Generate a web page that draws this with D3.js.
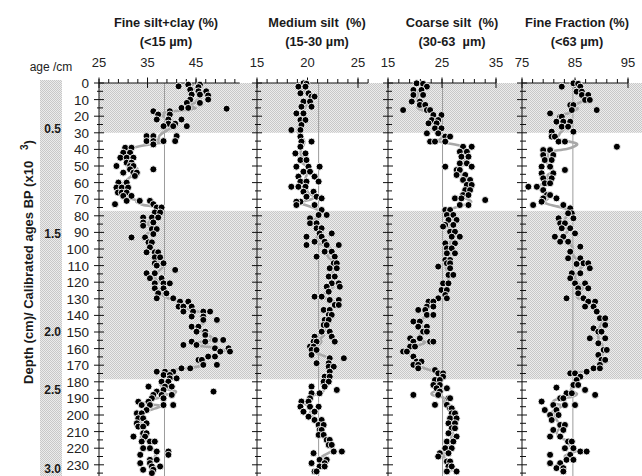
<!DOCTYPE html>
<html>
<head>
<meta charset="utf-8">
<script src="https://cdn.jsdelivr.net/npm/d3@7"></script>
<style>
body{margin:0;background:#fff;}
svg{display:block;font-family:"Liberation Sans",Arial,sans-serif;}
text{white-space:pre;}
</style>
</head>
<body>
<svg id="canvas" width="642" height="476"></svg>
<script>
// depth axis + age markers
let depthTicks=[0,10,20,30,40,50,60,70,80,90,100,110,120,130,140,150,160,170,180,190,200,210,220,230];
let ageLabels=["0.5","1.5","2.0","2.5","3.0"];
let ageDepths=[28,91,150,185,232.5];
let shadedBands=[[0,30],[77,178.5]];

let panelTitles=["Fine silt+clay (%)","Medium silt  (%)","Coarse silt  (%)","Fine Fraction (%)"];
let panelSubtitles=["(<15 µm)","(15-30 µm)","(30-63  µm)","(<63 µm)"];
let panelTicks=[[25,35,45],[15,20,25],[15,25,35],[75,85,95]];
let panelMeans=[38.5,21.1,25.1,84.6];

// [depth cm, %]
let fineSilt=[[1,43.4],[1,45.8],[2,41.4],[2.5,45.5],[4,43.8],[5,45.5],[5,47.1],[7,44.1],[7,45.8],[7.5,47.5],[10,43.8],[10,47.5],[12,43.1],[12,45.8],[15,42.0],[15,43.4],[15.5,51.3],[17,36.2],[17,39.6],[19,37.2],[19,39.6],[22,36.9],[22,39.3],[22,42.0],[24.5,39.3],[24.5,40.7],[26,38.3],[26,40.3],[26,43.1],[32,34.8],[32,36.2],[32,41.0],[35,34.8],[35,36.2],[35,38.3],[35,40.7],[37,36.2],[39,30.4],[39,31.7],[42,30.0],[42,31.4],[45,29.4],[45,30.7],[45,32.1],[48,30.7],[48,31.7],[50,28.6],[50,31.4],[50,32.1],[52,31.4],[52,36.2],[54,30.0],[54,32.1],[54,32.8],[56,32.4],[60,29.0],[60,30.7],[63,28.6],[63,29.7],[63,31.0],[66,28.9],[66,29.7],[66,30.7],[68,30.0],[68,31.7],[71,30.7],[71,33.4],[71,35.5],[73,28.3],[73,36.2],[75,36.9],[75,37.9],[78,36.5],[78,37.6],[81,34.1],[81,35.9],[81,37.2],[84,34.1],[84,36.2],[86,34.1],[88,35.9],[88,36.9],[91,36.2],[93,31.7],[93,34.5],[96,35.2],[96,35.9],[99,35.5],[102,34.8],[102,36.5],[102,37.2],[105,36.5],[105,37.6],[108.6,36.5],[108.6,38.3],[110,36.9],[112.6,40.7],[114.6,34.8],[114.6,36.5],[117.6,35.5],[117.6,37.9],[120.7,36.5],[120.7,38.3],[120.7,39.6],[123.7,36.5],[123.7,38.3],[126.7,37.2],[126.7,38.9],[129.7,36.9],[129.7,40.3],[131.7,41.7],[131.7,43.4],[134.7,41.4],[134.7,42.4],[134.7,44.1],[137.7,42.4],[137.7,44.4],[137.7,46.5],[137.7,47.9],[140.7,44.1],[140.7,46.5],[142.7,46.5],[142.7,49.3],[146.8,44.1],[146.8,45.5],[149.8,45.1],[149.8,46.9],[151.8,46.9],[154.8,48.9],[154.8,50.6],[155.8,44.1],[155.8,46.9],[157.8,42.4],[157.8,45.1],[159.8,48.9],[159.8,51.7],[161.8,50.0],[161.8,52.0],[164.8,47.5],[164.8,48.9],[166.8,45.5],[166.8,46.2],[169.8,46.5],[169.8,49.3],[171.9,42.0],[171.9,43.8],[173.9,36.9],[173.9,38.6],[173.9,40.3],[175.9,38.3],[175.9,39.6],[177.9,39.6],[177.9,41.0],[179.9,37.9],[179.9,39.3],[182.9,35.2],[182.9,38.6],[182.9,40.0],[184.9,38.3],[185.9,36.9],[185.9,48.6],[187.9,36.2],[187.9,37.9],[187.9,40.0],[189.9,35.9],[189.9,38.3],[192,33.1],[192,35.2],[194,33.8],[194,35.5],[194,38.3],[194,40.3],[197,34.8],[199,32.8],[199,33.8],[202,33.1],[202,34.1],[205,32.8],[205,34.8],[207,33.1],[207,34.1],[211,34.1],[211,34.8],[213,32.1],[213,34.5],[216,33.8],[216,35.5],[216,36.5],[220,34.1],[220,35.5],[222,36.9],[222,39.3],[224,33.5],[224,39.3],[227,35.5],[227,36.9],[229,33.5],[229,35.5],[231,35.9],[231,37.6],[233,34.1],[233,36.2],[235,35.9]];

let mediumSilt=[[0.2,19.6],[0.5,19.9],[2.2,19.1],[2.2,19.8],[6.2,19.3],[6.2,20.1],[8.2,20.4],[8.2,20.7],[11.2,19.6],[11.2,20.25],[14.3,19.4],[14.3,20.4],[18.3,18.9],[18.3,19.6],[22.3,19.3],[22.3,19.8],[25.3,19.4],[28.3,18.4],[28.3,19.3],[32.3,19.3],[35.3,19.4],[35.3,20.4],[38.4,19.3],[42.4,18.8],[42.4,19.8],[46.4,19.3],[46.4,19.9],[50.4,18.9],[50.4,20.1],[50.4,21.2],[53.4,19.6],[53.4,20.25],[56.4,19.1],[56.4,20.7],[59.4,19.3],[59.4,19.9],[59.4,21.1],[62.5,18.4],[62.5,19.1],[62.5,19.8],[65.5,19.6],[65.5,20.6],[68.5,19.9],[68.5,20.9],[69.5,21.4],[71.5,19.3],[71.5,18.9],[73.5,18.9],[73.5,20.7],[76.5,21.4],[79.5,21.1],[79.5,21.9],[81.5,20.25],[84.5,20.25],[84.5,20.9],[87.5,20.9],[87.5,21.4],[90.6,21.2],[90.6,22.4],[92.6,19.9],[92.6,21.4],[95.6,20.7],[95.6,21.7],[97.6,19.9],[97.6,21.9],[97.6,23.1],[101.6,21.7],[101.6,22.4],[104.6,20.9],[104.6,22.7],[108.6,22.6],[108.6,22.9],[111.6,22.2],[111.6,22.9],[116.6,22.1],[116.6,22.7],[120.7,22.4],[120.7,23.1],[122.7,21.9],[122.7,23.2],[125.7,22.1],[128.7,20.7],[128.7,21.4],[130.7,22.2],[130.7,23.1],[133.7,22.7],[133.7,23.1],[136.7,21.6],[136.7,22.2],[139.7,22.1],[139.7,22.4],[142.7,21.7],[142.7,22.1],[145.8,21.6],[145.8,21.9],[149.8,21.4],[149.8,22.2],[152.8,20.7],[152.8,22.4],[155.8,20.6],[155.8,20.9],[155.8,22.7],[158.8,20.25],[158.8,20.6],[160.8,20.4],[160.8,20.9],[163.8,20.4],[165.8,22.2],[165.8,23.6],[168.8,20.9],[168.8,22.1],[170.9,22.1],[170.9,22.6],[173.9,22.2],[176.9,21.7],[176.9,22.2],[179.9,21.6],[179.9,22.1],[182.9,20.4],[182.9,21.7],[184.9,22.9],[186.9,20.4],[186.9,21.2],[189.9,20.25],[191.9,19.4],[191.9,20.1],[195,19.3],[195,20.25],[195,21.1],[198,19.6],[198,20.7],[201,20.1],[203,20.7],[203,21.4],[206,21.1],[206,21.6],[209,21.2],[209,21.4],[212,21.1],[212,21.6],[215,21.9],[215,22.2],[218,22.1],[218,22.4],[222,22.6],[222,23.4],[223,20.6],[227,21.2],[227,21.9],[229,20.4],[229,21.7],[231,21.2],[231,21.7],[234,20.7],[234,20.9]];

let coarseSilt=[[0.2,20.3],[0.5,21.5],[2.2,22.2],[4.2,19.7],[4.2,21.2],[7.2,19.7],[7.2,21.5],[11.2,19.4],[11.2,20.9],[13.2,20.9],[13.2,21.9],[16.3,17.8],[16.3,22.2],[16.3,22.8],[19.3,23.4],[19.3,24.9],[22.3,23.1],[22.3,24.3],[24.3,22.5],[24.3,24.0],[27.3,23.7],[27.3,24.9],[30.3,22.2],[30.3,24.3],[32.3,25.6],[32.3,26.5],[35.3,22.8],[35.3,23.7],[35.3,25.6],[38.4,28.9],[38.4,30.5],[41.4,28.3],[41.4,29.6],[44.4,28.6],[44.4,29.9],[48.4,28.3],[48.4,29.6],[50.4,30.5],[50.4,25.6],[52.4,27.7],[52.4,28.3],[55.4,27.7],[55.4,29.3],[58.4,28.9],[58.4,30.2],[61.4,29.6],[61.4,30.5],[64.5,29.3],[64.5,30.2],[67.5,28.9],[67.5,29.9],[69.5,27.4],[69.5,28.6],[70.5,33.0],[73.5,29.9],[73.5,28.3],[76.5,25.6],[76.5,26.5],[79.5,25.9],[79.5,27.1],[82.5,26.2],[82.5,27.7],[85.5,25.6],[85.5,27.1],[86.5,25.2],[89.6,26.5],[89.6,27.4],[92.6,28.3],[92.6,26.8],[96.6,25.6],[96.6,27.4],[99.6,25.9],[99.6,26.8],[102.6,25.9],[102.6,27.4],[106.6,25.6],[106.6,26.5],[108.6,25.9],[108.6,26.5],[110.6,24.3],[111.6,26.5],[115.6,26.2],[115.6,27.1],[120.7,25.2],[120.7,26.2],[124.7,24.9],[124.7,25.9],[127.7,25.6],[129.7,24.3],[129.7,25.9],[131.7,22.5],[131.7,23.4],[134.7,22.2],[134.7,23.4],[136.7,20.6],[136.7,21.9],[139.7,22.2],[139.7,23.4],[143.7,19.7],[143.7,20.9],[146.8,20.6],[146.8,22.2],[149.8,21.5],[149.8,22.2],[153.8,19.1],[153.8,20.9],[155.8,19.7],[155.8,22.8],[155.8,23.4],[158.8,19.1],[158.8,20.0],[161.8,17.8],[161.8,18.5],[164.8,19.7],[167.8,20.3],[167.8,21.2],[169.8,19.7],[169.8,20.6],[171.9,20.6],[172.9,23.7],[174.9,24.3],[174.9,25.2],[176.9,25.2],[178.9,23.7],[178.9,24.6],[181.9,23.4],[181.9,24.6],[183.9,24.0],[183.9,25.9],[185.9,24.6],[187.9,19.7],[187.9,24.3],[189.9,26.2],[189.9,26.5],[193.9,23.7],[193.9,25.9],[196,26.5],[196,26.8],[199,26.8],[199,27.4],[202,26.5],[202,27.7],[205,26.2],[205,27.4],[208,26.8],[208,27.4],[211,26.2],[213,27.7],[216,25.9],[216,27.1],[220,25.6],[220,26.8],[223,24.6],[223,26.2],[225,24.3],[228,25.9],[228,26.5],[231,26.2],[231,26.8],[234,25.9],[234,27.7]];

let fineFraction=[[0.2,84.7],[0.5,85.6],[2.2,82.5],[2.2,86.0],[5.2,85.3],[5.2,86.3],[7.2,86.3],[7.2,87.5],[10.2,86.9],[10.2,87.8],[13.3,84.1],[13.3,84.7],[16.3,84.4],[16.3,89.1],[18.3,80.3],[20.3,82.2],[20.3,82.5],[23.3,81.5],[23.3,82.8],[23.3,84.1],[26.3,82.5],[26.3,83.7],[29.3,80.6],[29.3,84.7],[32.3,80.6],[32.3,81.2],[35.3,81.9],[35.3,83.1],[38.4,92.9],[40.4,79.0],[40.4,80.3],[43.4,79.0],[43.4,80.9],[46.4,79.3],[46.4,80.6],[50.4,78.7],[50.4,80.3],[52.4,83.1],[54.4,78.7],[54.4,80.9],[57.4,79.0],[57.4,80.6],[60.4,79.3],[60.4,80.3],[62.5,76.2],[62.5,77.8],[64.5,79.0],[67.5,79.7],[67.5,80.3],[69.5,79.0],[69.5,81.5],[71.5,78.7],[73.5,77.1],[73.5,82.8],[75.5,84.1],[78.5,84.4],[78.5,83.7],[81.5,81.9],[81.5,84.7],[84.5,82.2],[84.5,83.1],[87.5,82.5],[87.5,84.1],[90.6,85.0],[92.6,81.2],[92.6,82.8],[95.6,82.2],[95.6,83.7],[98.6,86.0],[101.6,84.1],[105.6,83.7],[105.6,86.0],[108.6,86.6],[108.6,87.5],[109,85.3],[111.6,87.8],[114.6,84.4],[114.6,86.0],[117.6,84.1],[120.7,85.0],[120.7,86.9],[123.7,85.6],[123.7,87.5],[126.7,85.6],[129.7,83.4],[129.7,86.6],[131.7,87.5],[131.7,88.8],[134.7,86.9],[134.7,88.5],[137.7,89.1],[141.7,89.7],[141.7,90.7],[145.8,90.7],[147.8,88.5],[149.8,89.4],[149.8,90.0],[153.8,87.8],[153.8,90.7],[156.8,89.4],[160.8,90.4],[160.8,91.0],[163.8,89.4],[166.8,90.0],[166.8,90.7],[169.8,89.7],[171.9,88.5],[171.9,89.7],[173.9,87.2],[174.9,84.1],[174.9,85.0],[176.9,86.0],[178.9,85.3],[181.9,84.7],[181.9,85.6],[183.5,81.5],[184.9,86.9],[186.9,83.4],[186.9,84.4],[187.9,88.8],[189.9,82.2],[189.9,82.8],[191.9,78.7],[194,80.9],[194,83.1],[194,85.0],[197,79.3],[197,81.5],[200,80.3],[200,81.9],[203,80.6],[206,82.2],[206,83.1],[209,80.9],[209,82.8],[213,80.3],[213,82.2],[216,83.7],[216,84.4],[220,83.1],[220,84.7],[222,86.0],[222,87.2],[224,80.3],[224,84.1],[227,83.4],[227,84.7],[229,80.3],[229,82.2],[232,81.5],[232,82.8],[234,82.8]];

let canvas=d3.select("#canvas");
let bottom=476;
let y=d3.scaleLinear().domain([0,240]).range([83,481.4]);

// layout of the four strips
let panels=[
    {pts:fineSilt,dom:[25,54],rng:[99,239.7],minor:2,titleX:166},
    {pts:mediumSilt,dom:[15,26],rng:[257,368.1],minor:1,titleX:317},
    {pts:coarseSilt,dom:[15,35],rng:[388,496],minor:2,titleX:452},
    {pts:fineFraction,dom:[75,95],rng:[522,628],minor:2,titleX:577}
];

// stipple fill
let pat=canvas.append("defs").append("pattern")
    .attr("id","stip").attr("width",2).attr("height",2)
    .attr("patternUnits","userSpaceOnUse");
pat.append("rect").attr("width",2).attr("height",2).attr("fill","#ececec");
pat.append("rect").attr("width",1).attr("height",1).attr("fill","#c8c8c8");
pat.append("rect").attr("x",1).attr("y",1).attr("width",1).attr("height",1).attr("fill","#c8c8c8");

canvas.selectAll(".band").data(shadedBands).enter().append("rect")
    .attr("class","band")
    .attr("x",99).attr("width",642-99)
    .attr("y",(b)=>y(b[0]))
    .attr("height",(b)=>y(b[1])-y(b[0]))
    .attr("fill","url(#stip)");
canvas.append("rect").attr("x",40).attr("y",80).attr("width",22).attr("height",bottom-80)
    .attr("fill","url(#stip)");

panels.forEach((p,i)=>{
    let x=d3.scaleLinear().domain(p.dom).range(p.rng);
    let g=canvas.append("g");

    // mean line
    g.append("line")
        .attr("x1",x(panelMeans[i])).attr("x2",x(panelMeans[i]))
        .attr("y1",83).attr("y2",bottom)
        .attr("stroke","#9c9c9c").attr("stroke-width",1);

    // running mean curve (grey)
    let sorted=p.pts.slice().sort((a,b)=>a[0]-b[0]);
    let smooth=sorted.map((d,k)=>{
        let w=sorted.slice(Math.max(0,k-1),Math.min(sorted.length,k+2));
        return [d3.mean(w,(e)=>e[0]),d3.mean(w,(e)=>e[1])];
    });
    let line=d3.line().x((d)=>x(d[1])).y((d)=>y(d[0])).curve(d3.curveBasis);
    g.append("path")
        .attr("d",line(smooth))
        .attr("fill","none").attr("stroke","#a8a8a8").attr("stroke-width",2.6);

    // left depth axis
    let left=p.rng[0];
    g.append("line").attr("x1",left).attr("x2",left).attr("y1",83).attr("y2",bottom)
        .attr("stroke","#111").attr("stroke-width",1);
    g.selectAll(".dmaj").data(depthTicks).enter().append("line")
        .attr("x1",left-5).attr("x2",left+5)
        .attr("y1",(d)=>y(d)).attr("y2",(d)=>y(d))
        .attr("stroke","#111");
    g.selectAll(".dmin").data(depthTicks).enter().append("line")
        .attr("x1",left-2).attr("x2",left+4)
        .attr("y1",(d)=>y(d+5)).attr("y2",(d)=>y(d+5))
        .attr("stroke","#111");

    // top axis
    g.append("line").attr("x1",p.rng[0]).attr("x2",p.rng[1]).attr("y1",83).attr("y2",83)
        .attr("stroke","#111");
    let minors=d3.range(p.dom[0],p.dom[1]+0.01,p.minor);
    g.selectAll(".tmin").data(minors).enter().append("line")
        .attr("x1",(d)=>x(d)).attr("x2",(d)=>x(d))
        .attr("y1",79).attr("y2",83).attr("stroke","#111");
    g.selectAll(".tmaj").data(panelTicks[i]).enter().append("line")
        .attr("x1",(d)=>x(d)).attr("x2",(d)=>x(d))
        .attr("y1",77.5).attr("y2",88).attr("stroke","#111");
    g.selectAll(".tlab").data(panelTicks[i]).enter().append("text")
        .attr("x",(d)=>x(d)).attr("y",67)
        .attr("text-anchor","middle").attr("font-size",13).attr("fill","#222")
        .text((d)=>d);

    // titles
    g.append("text").attr("x",p.titleX).attr("y",27)
        .attr("text-anchor","middle").attr("font-size",12.8).attr("font-weight","bold").attr("fill","#1a1a1a")
        .text(panelTitles[i]);
    g.append("text").attr("x",p.titleX).attr("y",46)
        .attr("text-anchor","middle").attr("font-size",12.8).attr("font-weight","bold").attr("fill","#1a1a1a")
        .text(panelSubtitles[i]);

    // samples
    g.selectAll("circle").data(p.pts).enter().append("circle")
        .attr("cx",(d)=>x(d[1])).attr("cy",(d)=>y(d[0]))
        .attr("r",3.5)
        .attr("fill","#000").attr("stroke","#fff").attr("stroke-width",0.9);
});

// depth labels
canvas.selectAll(".dlab").data(depthTicks).enter().append("text")
    .attr("x",89).attr("y",(d)=>y(d)+5)
    .attr("text-anchor","end").attr("font-size",13.5).attr("fill","#222")
    .text((d)=>d);

// age labels
canvas.selectAll(".alab").data(ageLabels).enter().append("text")
    .attr("x",61).attr("y",(d,i)=>y(ageDepths[i])+4)
    .attr("text-anchor","end").attr("font-size",12).attr("font-weight","bold").attr("fill","#1a1a1a")
    .text((d)=>d);

canvas.append("text").attr("x",51).attr("y",71)
    .attr("text-anchor","middle").attr("font-size",12).attr("fill","#222")
    .text("age /cm");

let yt=canvas.append("text")
    .attr("transform","translate(33,262) rotate(-90)")
    .attr("text-anchor","middle").attr("font-size",13).attr("font-weight","bold").attr("fill","#1a1a1a");
yt.append("tspan").text("Depth (cm)/ Calibrated ages BP (x10   ");
yt.append("tspan").attr("dy",-5).attr("font-size",10).text("3");
yt.append("tspan").attr("dy",5).text(")");
</script>
</body>
</html>
